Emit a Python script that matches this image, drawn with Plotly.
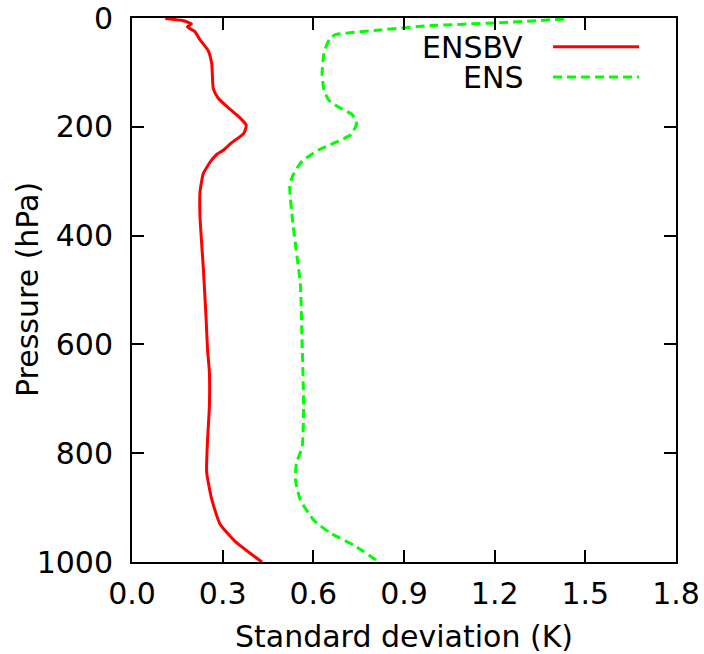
import plotly.graph_objects as go

# ENSBV profile
ensbv_p = [1, 5, 11, 16, 25, 40, 60, 85, 130, 148, 168, 184, 197, 212, 230, 243, 250, 260, 267, 286, 320, 365, 460, 550, 610, 650, 715, 775, 835, 885, 930, 965, 1000]
ensbv_v = [0.11, 0.17, 0.197, 0.183, 0.208, 0.225, 0.252, 0.264, 0.269, 0.286, 0.325, 0.358, 0.378, 0.370, 0.328, 0.302, 0.282, 0.265, 0.256, 0.236, 0.225, 0.225, 0.236, 0.245, 0.250, 0.256, 0.256, 0.250, 0.247, 0.264, 0.291, 0.347, 0.43]

# ENS profile
ens_p = [2, 9, 14, 22, 31, 37, 47, 65, 102, 132, 151, 166, 178, 195, 215, 230, 243, 261, 267, 292, 310, 365, 439, 488, 600, 714, 788, 819, 849, 886, 923, 947, 969, 998]
ens_v = [1.43, 1.2, 0.99, 0.822, 0.671, 0.656, 0.646, 0.635, 0.629, 0.635, 0.651, 0.69, 0.729, 0.743, 0.723, 0.668, 0.615, 0.568, 0.557, 0.53, 0.522, 0.53, 0.546, 0.557, 0.563, 0.568, 0.563, 0.544, 0.541, 0.557, 0.601, 0.657, 0.734, 0.812]

x_ticks = [0.0, 0.3, 0.6, 0.9, 1.2, 1.5, 1.8]
y_ticks = [0, 200, 400, 600, 800, 1000]

series_names = ["ENSBV", "ENS"]
RED = "#ff0000"
GREEN = "#00ff00"
FONT = "DejaVu Sans"
FS = 30

fig = go.Figure()
fig.add_trace(go.Scatter(x=ensbv_v, y=ensbv_p, mode="lines", name=series_names[0],
                         line=dict(color=RED, width=3, shape="spline", smoothing=0.5), showlegend=False))
fig.add_trace(go.Scatter(x=ens_v, y=ens_p, mode="lines", name=series_names[1],
                         line=dict(color=GREEN, width=3, dash="9px,5px", shape="spline", smoothing=0.5), showlegend=False))

# Gnuplot-style legend: right-aligned text followed by a line sample
leg_y = [0.947, 0.8915]
leg_styles = [dict(color=RED, width=3), dict(color=GREEN, width=3, dash="9px,5px")]
for name, yy, st in zip(series_names, leg_y, leg_styles):
    fig.add_annotation(x=0.7224, y=yy, xref="paper", yref="paper", text=name,
                       showarrow=False, xanchor="right", yanchor="middle", height=26,
                       font=dict(family=FONT, size=FS, color="black"))
    fig.add_shape(type="line", xref="paper", yref="paper", x0=0.774, x1=0.932,
                  y0=yy, y1=yy, line=st)

# y-axis title placed as rotated text in the left margin
fig.add_annotation(x=-0.193, y=0.5, xref="paper", yref="paper", text="Pressure (hPa)",
                   textangle=-90, showarrow=False, xanchor="center", yanchor="middle",
                   font=dict(family=FONT, size=FS, color="black"))

axis_common = dict(showline=True, linecolor="black", linewidth=2, mirror="ticks",
                   ticks="inside", ticklen=12, tickwidth=2, tickcolor="black",
                   showgrid=False, zeroline=False, automargin=False,
                   tickfont=dict(family=FONT, size=FS, color="black"))

fig.update_xaxes(range=[0, 1.8], tickvals=x_ticks, ticktext=[f"{v:.1f}" for v in x_ticks],
                 title=dict(text="Standard deviation (K)", font=dict(family=FONT, size=FS, color="black"), standoff=16),
                 ticklabelstandoff=4, **axis_common)
fig.update_yaxes(range=[1000, 0], tickvals=y_ticks, ticktext=[str(v) for v in y_ticks],
                 ticklabelstandoff=11, **axis_common)

fig.update_layout(width=704, height=654, margin=dict(l=132, r=28, t=18, b=92),
                  plot_bgcolor="white", paper_bgcolor="white",
                  font=dict(family=FONT, size=FS, color="black"))

fig.write_html("out.html", config={"displayModeBar": False},
               post_script="document.body.style.margin='0px';document.body.style.overflow='hidden';")
